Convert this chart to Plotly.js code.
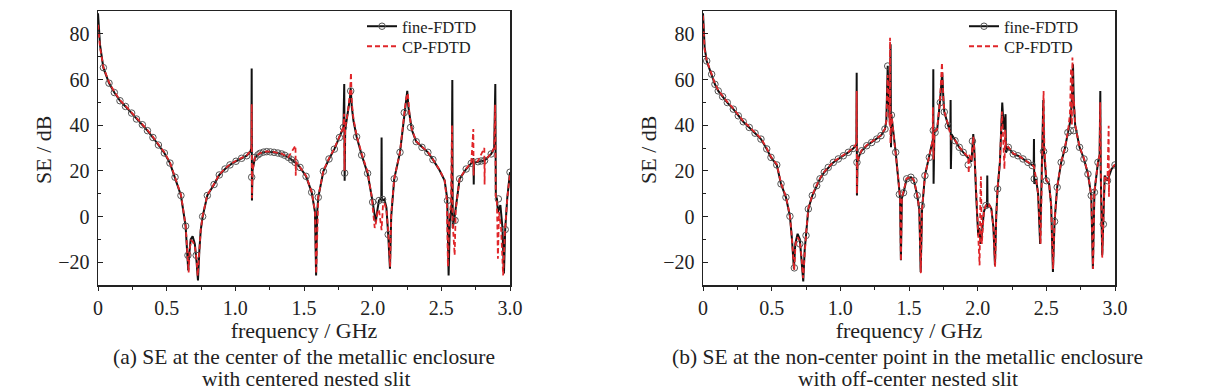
<!DOCTYPE html>
<html><head><meta charset="utf-8">
<script src="https://cdn.plot.ly/plotly-3.0.1.min.js"></script>
<style>html,body{margin:0;padding:0;background:#fff}#chart{width:1207px;height:391px}</style>
</head><body><div id="chart"></div>
<script>
// ---------- (a) centered nested slit ----------
const fA_fine = [0,0.005,0.015,0.039,0.08,0.119,0.16,0.2,0.245,0.28,0.323,0.36,0.40,0.44,0.483,0.524,0.561,0.604,0.638,0.650,0.657,0.665,0.675,0.689,0.705,0.718,0.728,0.738,0.748,0.762,0.796,0.845,0.883,0.925,0.961,1.005,1.046,1.083,1.110,1.117,1.119,1.121,1.125,1.143,1.18,1.228,1.282,1.337,1.386,1.44,1.471,1.515,1.556,1.58,1.588,1.596,1.604,1.641,1.682,1.721,1.758,1.787,1.793,1.796,1.80,1.82,1.835,1.84,1.848,1.86,1.883,1.92,1.963,2.0,2.015,2.022,2.035,2.046,2.063,2.065,2.067,2.085,2.10,2.113,2.126,2.135,2.157,2.199,2.23,2.245,2.252,2.26,2.27,2.285,2.317,2.359,2.402,2.439,2.488,2.524,2.543,2.553,2.562,2.575,2.58,2.583,2.597,2.633,2.681,2.718,2.734,2.736,2.738,2.766,2.815,2.863,2.885,2.893,2.897,2.905,2.912,2.93,2.945,2.956,2.965,2.98,3.0];
const seA_fine = [89,82,75,65.2,58.4,54.3,50.7,48.2,45.3,42.7,40.2,37.6,34.6,31.3,27.8,23.4,17.2,9.2,-4.2,-14,-23.6,-16,-10,-8.7,-12,-20,-28,-15,-6,0,9.2,14,18.2,20.8,22.6,24.2,25.5,26.6,28.5,30,64.8,7,20,25.9,27.7,28.4,28.1,27.4,25.9,23.5,21.5,17.6,10.6,1.9,-25.8,2,8.4,19.8,25.2,29.5,34.6,39,58,15.7,38,45,52,56.2,48,42,34.9,26.9,18.9,6.3,-1,-2.5,3,7,8,34.6,7,7.5,4,-7.9,-22.9,0,16.5,28.1,45.5,52,55,48,43,38,32.8,30.3,28.1,24.9,20.1,15.7,7.7,-25.8,-2,5,59.8,-5,0,16.5,20.8,23.3,25.5,14,23.5,24,24.5,27.4,30,58,9,7.7,2,5,-5,-25,-5.7,8,19.4];

const fA_cp = [0,0.005,0.015,0.039,0.08,0.119,0.16,0.2,0.245,0.28,0.323,0.36,0.40,0.44,0.483,0.524,0.561,0.604,0.638,0.650,0.660,0.668,0.678,0.690,0.705,0.718,0.726,0.738,0.748,0.762,0.796,0.845,0.883,0.925,0.961,1.005,1.046,1.083,1.110,1.117,1.119,1.121,1.125,1.143,1.18,1.228,1.282,1.337,1.386,1.438,1.440,1.442,1.471,1.515,1.556,1.58,1.589,1.597,1.604,1.641,1.682,1.721,1.758,1.787,1.792,1.795,1.80,1.82,1.835,1.842,1.848,1.86,1.883,1.92,1.963,1.98,1.995,2.0,2.015,2.022,2.035,2.046,2.055,2.065,2.075,2.085,2.10,2.113,2.127,2.135,2.157,2.199,2.23,2.245,2.256,2.262,2.27,2.285,2.317,2.359,2.402,2.439,2.488,2.524,2.540,2.548,2.558,2.570,2.578,2.582,2.590,2.597,2.605,2.633,2.681,2.718,2.733,2.735,2.737,2.766,2.813,2.815,2.817,2.863,2.885,2.892,2.896,2.905,2.912,2.92,2.935,2.95,2.962,2.98,3.0];
const seA_cp = [84,80,74,65.5,58.8,54.6,51,48.5,45.6,43,40.5,37.9,34.9,31.6,28.1,23.7,17.5,9.5,-4,-14,-24.5,-14,-10.5,-11,-13,-19,-26,-15,-6,0.3,9.4,14.2,18.4,21,22.8,24.4,25.7,26.8,28.7,30,49.2,8,20,26,27.8,28.5,28.2,27.5,26,31,17.9,24,21.6,17.8,10.8,2.2,-25,2.2,8.6,20,25.4,29.7,34.8,39.2,45,20,39,46,54,63,50,43,35.5,27.5,19.5,14,8,4,-5,-3.5,2,3,-3,-6,5,6,3,-6,-22,1,16.5,28.3,45,52,54,49,43.5,38.2,33,30.5,28.3,25,20.3,15.9,7,-22,0,5,40,-2,-10,-17,3,16.6,21,23.5,38.3,18,23.7,24.2,30,14,24.6,27.6,30,49,9,6,-18.5,2,-5,-25.8,-8,8,19];

const fA_circ = [0.039,0.08,0.119,0.16,0.2,0.245,0.28,0.323,0.36,0.40,0.44,0.483,0.524,0.561,0.604,0.638,0.655,0.715,0.762,0.796,0.845,0.883,0.925,0.961,1.005,1.046,1.083,1.119,1.143,1.165,1.18,1.205,1.228,1.255,1.282,1.31,1.337,1.36,1.386,1.41,1.435,1.471,1.515,1.556,1.604,1.641,1.682,1.721,1.758,1.787,1.796,1.84,1.883,1.92,1.963,2.0,2.046,2.072,2.113,2.157,2.199,2.23,2.276,2.317,2.359,2.402,2.439,2.545,2.60,2.633,2.681,2.718,2.766,2.79,2.815,2.863,2.915,2.965,3.0];
const seA_circ = [65.2,58.4,54.3,50.7,48.2,45.3,42.7,40.2,37.6,34.6,31.3,27.8,23.4,17.2,9.2,-4.2,-17,-17,0,9.2,14,18.2,20.8,22.6,24.2,25.5,26.6,17.2,25.9,27,27.7,28.2,28.4,28.3,28.1,27.8,27.4,26.8,25.9,24.8,23.7,21.5,17.6,10.6,8.4,19.8,25.2,29.5,34.6,39,19,55,34.9,26.9,18.9,6.3,7,7.5,-7.9,16.5,28.1,45.5,39,32.8,30.3,28.1,24.9,7,-1.7,16.5,20.8,23.3,24,24.3,24.5,27.4,7.7,-5.7,19.4];

// ---------- (b) off-center nested slit ----------
const fB_fine = [0,0.005,0.012,0.027,0.063,0.087,0.111,0.143,0.177,0.221,0.257,0.293,0.337,0.379,0.422,0.464,0.495,0.537,0.568,0.604,0.633,0.648,0.662,0.672,0.689,0.705,0.718,0.73,0.74,0.75,0.767,0.796,0.828,0.852,0.883,0.912,0.949,0.985,1.022,1.058,1.094,1.112,1.117,1.119,1.121,1.125,1.14,1.155,1.192,1.228,1.265,1.296,1.325,1.335,1.345,1.352,1.362,1.366,1.369,1.372,1.403,1.422,1.435,1.441,1.448,1.46,1.483,1.514,1.536,1.56,1.575,1.585,1.595,1.616,1.648,1.665,1.675,1.677,1.679,1.685,1.705,1.725,1.742,1.75,1.757,1.786,1.801,1.803,1.805,1.81,1.835,1.866,1.895,1.931,1.955,1.968,1.975,1.99,2.004,2.012,2.02,2.03,2.045,2.06,2.068,2.07,2.072,2.085,2.10,2.115,2.126,2.135,2.145,2.162,2.169,2.179,2.19,2.203,2.206,2.223,2.259,2.293,2.33,2.366,2.397,2.408,2.41,2.412,2.425,2.44,2.455,2.465,2.478,2.483,2.5,2.52,2.535,2.548,2.56,2.579,2.608,2.633,2.657,2.675,2.685,2.694,2.7,2.71,2.742,2.774,2.803,2.827,2.839,2.85,2.876,2.888,2.893,2.896,2.907,2.915,2.925,2.945,2.975,3.0];
const seB_fine = [89,80,74,68.1,62.3,57.9,55,52.5,49.9,47,44.1,41.5,39,36.5,33.9,29.6,25.9,22.6,14.3,8.4,0.1,-10,-22.9,-12,-7.6,-10,-18,-28.4,-15,-8.3,3.3,9.2,13.5,16.5,19.4,21.5,23.7,25.2,26.6,28.1,29.8,31,32,63,9.2,24,27,28.8,31,32.4,33.9,35.4,38.3,42,66,50,40,75.4,30.3,44.4,28.1,16.5,8,-19.2,8,10.4,16.5,17.2,15.7,9.2,3,-24.3,3,17.9,25.9,31,34,64.5,14.3,37,38,50,63,52,45.8,39.7,37,51,20.8,36,33.2,30.3,28.1,25.9,24,36.1,30,8,-8.3,-5,-12,-8,2,4.8,5,17.9,4,5,3.3,-5,-21.4,0,12.1,23.7,34.6,49.9,38,44.8,28,30.3,27.4,26.6,25.2,23.7,22.3,22,33.9,14.3,16.5,10,-12,15,51,28.5,15.7,14.3,5,-24.3,-2.2,12.8,23.7,29.3,36.8,42,50,66.7,50,40,30.3,25.2,18.6,9.2,-22.9,10.6,23.7,27,55,20,-17,-3.4,17.9,15.7,20.8,22.6];

const fB_cp = [0,0.005,0.012,0.027,0.063,0.087,0.111,0.143,0.177,0.221,0.257,0.293,0.337,0.379,0.422,0.464,0.495,0.537,0.568,0.604,0.633,0.648,0.664,0.674,0.690,0.705,0.718,0.729,0.74,0.75,0.767,0.796,0.828,0.852,0.883,0.912,0.949,0.985,1.022,1.058,1.094,1.112,1.117,1.119,1.121,1.125,1.14,1.155,1.192,1.228,1.265,1.296,1.325,1.335,1.345,1.352,1.360,1.362,1.365,1.372,1.403,1.422,1.435,1.441,1.448,1.46,1.483,1.514,1.536,1.56,1.575,1.586,1.595,1.616,1.648,1.665,1.672,1.674,1.678,1.685,1.705,1.725,1.740,1.744,1.75,1.757,1.786,1.810,1.835,1.866,1.895,1.931,1.935,1.939,1.955,1.968,1.975,1.99,2.004,2.014,2.020,2.024,2.030,2.045,2.06,2.075,2.085,2.10,2.115,2.127,2.135,2.145,2.162,2.169,2.177,2.183,2.195,2.200,2.206,2.223,2.259,2.293,2.33,2.366,2.397,2.41,2.425,2.44,2.458,2.468,2.480,2.486,2.5,2.52,2.535,2.549,2.56,2.579,2.608,2.633,2.657,2.672,2.680,2.686,2.690,2.695,2.70,2.71,2.742,2.774,2.803,2.827,2.840,2.85,2.876,2.888,2.892,2.897,2.907,2.915,2.925,2.945,2.954,2.956,2.958,2.975,3.0];
const seB_cp = [88,79,73,68.4,62.6,58.2,55.3,52.8,50.2,47.3,44.4,41.8,39.3,36.8,34.2,29.9,26.2,22.9,14.6,8.7,0.4,-10,-23.5,-12,-9,-11,-18,-27,-15,-8,3.5,9.4,13.7,16.7,19.6,21.7,23.9,25.4,26.8,28.3,30,31.2,32,55,10,24,27.2,29,31.2,32.6,34.1,35.6,38.5,42,62,48,40,78.3,32,45,28.3,16.7,8,-19.5,8,10.6,16.7,17.4,15.9,9.4,3,-24.8,3,18,26,31.2,34,48,25,37.2,38.3,50.5,67.4,55,52,46,40,33.4,33.4,30.5,28.3,26,19,27,24.2,35,30,8,-8,-21.4,10,17.5,-12,2,5,4,5,3.5,-5,-22,0,12.3,23.9,34.8,46,38,20.8,38,30,30.5,27.6,26.8,25.4,23.9,22.5,22,16.7,10,-11.9,18,55,30,15.9,14.5,5,-23,-2,13,23.9,29.5,37,45,65,40,69.6,50,52,40,30.5,25.4,18.8,9.4,-23,10.8,23.9,27,50,20,-18,-3,18,15.9,39.7,8.7,20,21,22.8];

const fB_circ = [0.027,0.063,0.087,0.111,0.143,0.177,0.221,0.257,0.293,0.337,0.379,0.422,0.464,0.495,0.537,0.568,0.604,0.633,0.665,0.705,0.75,0.767,0.796,0.828,0.852,0.883,0.912,0.949,0.985,1.022,1.058,1.094,1.121,1.155,1.192,1.228,1.265,1.296,1.325,1.345,1.372,1.403,1.43,1.46,1.483,1.514,1.536,1.56,1.59,1.616,1.648,1.677,1.69,1.728,1.757,1.786,1.835,1.866,1.895,1.931,1.962,2.06,2.145,2.223,2.259,2.293,2.33,2.366,2.397,2.412,2.48,2.5,2.56,2.579,2.608,2.633,2.657,2.675,2.70,2.742,2.774,2.803,2.827,2.85,2.876,2.915,2.945,3.0];
const seB_circ = [68.1,62.3,57.9,55,52.5,49.9,47,44.1,41.5,39,36.5,33.9,29.6,25.9,22.6,14.3,8.4,0.1,-22.5,-12,-8.3,3.3,9.2,13.5,16.5,19.4,21.5,23.7,25.2,26.6,28.1,29.8,23.7,28.8,31,32.4,33.9,35.4,38.3,65.9,44.4,28.1,9.7,10.4,16.5,17.2,15.7,9.2,4.8,17.9,25.9,37.7,36.8,49.9,45.8,39.7,33.2,30.3,28.1,22.6,33,4.8,12.1,30.3,27.4,26.6,25.2,23.7,22.3,16.5,28.5,15.7,-2.2,12.8,23.7,29.3,36.8,37.6,37.6,30.3,25.2,18.6,9.2,10.6,23.7,-3.4,15.7,22.6];

const xTickVals = [0,0.5,1.0,1.5,2.0,2.5,3.0];
const xTickText = ['0','0.5','1.0','1.5','2.0','2.5','3.0'];
const yTickVals = [-20,0,20,40,60,80];

const FONT = "'Liberation Serif', 'Times New Roman', serif";
const BLACK = '#111111', RED = '#e0262a', CIRC = '#555555';
const W = 1207;

function setTraces(xa, ya, legF, legC, fF, sF, fC, sC, fc, sc) {
  return [
    {x: fF, y: sF, xaxis: xa, yaxis: ya, mode: 'lines', line: {color: BLACK, width: 2}, showlegend: false, hoverinfo: 'skip'},
    {x: fc, y: sc, xaxis: xa, yaxis: ya, mode: 'markers', marker: {symbol: 'circle-open', size: 6.5, color: CIRC, line: {width: 1, color: CIRC}}, showlegend: false, hoverinfo: 'skip'},
    {x: fC, y: sC, xaxis: xa, yaxis: ya, mode: 'lines', name: 'CP-FDTD', legend: legC, line: {color: RED, width: 1.8, dash: '5px,3px'}, hoverinfo: 'skip'},
    {x: [null], y: [null], xaxis: xa, yaxis: ya, mode: 'lines+markers', name: 'fine-FDTD', legend: legF, line: {color: BLACK, width: 2}, marker: {symbol: 'circle-open', size: 6.5, color: CIRC, line: {width: 1, color: CIRC}}}
  ];
}

const data = [].concat(
  setTraces('x', 'y', 'legend', 'legend3', fA_fine, seA_fine, fA_cp, seA_cp, fA_circ, seA_circ),
  setTraces('x2', 'y2', 'legend2', 'legend4', fB_fine, seB_fine, fB_cp, seB_cp, fB_circ, seB_circ)
);

function xaxis(dom, anchor) {
  return {domain: dom, anchor: anchor, range: [0, 3], tickvals: xTickVals, ticktext: xTickText,
    ticks: 'outside', ticklen: 4, tickwidth: 1, tickcolor: '#222', showline: true, mirror: true,
    linecolor: '#222', linewidth: 1.5, showgrid: false, zeroline: false,
    minor: {tickvals: [0.25,0.75,1.25,1.75,2.25,2.75], ticks: 'outside', ticklen: 3, tickcolor: '#222'},
    tickfont: {family: FONT, size: 20, color: '#222'},
    title: {text: 'frequency / GHz', font: {family: FONT, size: 22, color: '#222'}, standoff: 4}};
}
function yaxis(anchor) {
  return {domain: [0, 1], anchor: anchor, range: [-30, 90], tickvals: yTickVals,
    ticks: 'inside', ticklen: 5, tickwidth: 1, tickcolor: '#222', showline: true, mirror: true,
    linecolor: '#222', linewidth: 1.5, showgrid: false, zeroline: false,
    minor: {tickvals: [-10,10,30,50,70], ticks: 'inside', ticklen: 3, tickcolor: '#222'},
    tickfont: {family: FONT, size: 20, color: '#222'}, ticklabelstandoff: 3};
}
function legendAt(pxLeft, pyTop) {
  return {font: {family: FONT, size: 16.5, color: '#222'}, bgcolor: 'rgba(0,0,0,0)', borderwidth: 0,
    itemwidth: 30, xanchor: 'left', yanchor: 'top', x: pxLeft / W, y: (285 - pyTop) / 274};
}
function note(text, px, py, size, angle) {
  return {text: text, x: px / W, y: (285 - py) / 274, xref: 'paper', yref: 'paper',
    xanchor: 'center', yanchor: 'middle', showarrow: false, textangle: angle || 0,
    font: {family: FONT, size: size, color: '#222'}};
}

const layout = {
  width: 1207, height: 391, margin: {l: 0, r: 0, t: 11, b: 106},
  paper_bgcolor: '#fff', plot_bgcolor: '#fff', font: {family: FONT, color: '#222'},
  xaxis: xaxis([98 / W, 510 / W], 'y'),
  yaxis: yaxis('x'),
  xaxis2: xaxis([703 / W, 1115 / W], 'y2'),
  yaxis2: yaxis('x2'),
  legend: legendAt(362, 9),
  legend3: legendAt(362, 29),
  legend2: legendAt(964, 9),
  legend4: legendAt(964, 29),
  annotations: [
    note('SE / dB', 43, 150, 22, -90),
    note('SE / dB', 648, 150, 22, -90),
    note('(a) SE at the center of the metallic enclosure', 304, 357, 21.5),
    note('with centered nested slit', 306, 379, 21.5),
    note('(b) SE at the non-center point in the metallic enclosure', 907, 357, 21.5),
    note('with off-center nested slit', 908, 379, 21.5)
  ]
};

Plotly.newPlot('chart', data, layout, {displayModeBar: false, staticPlot: true});
</script>
</body></html>
